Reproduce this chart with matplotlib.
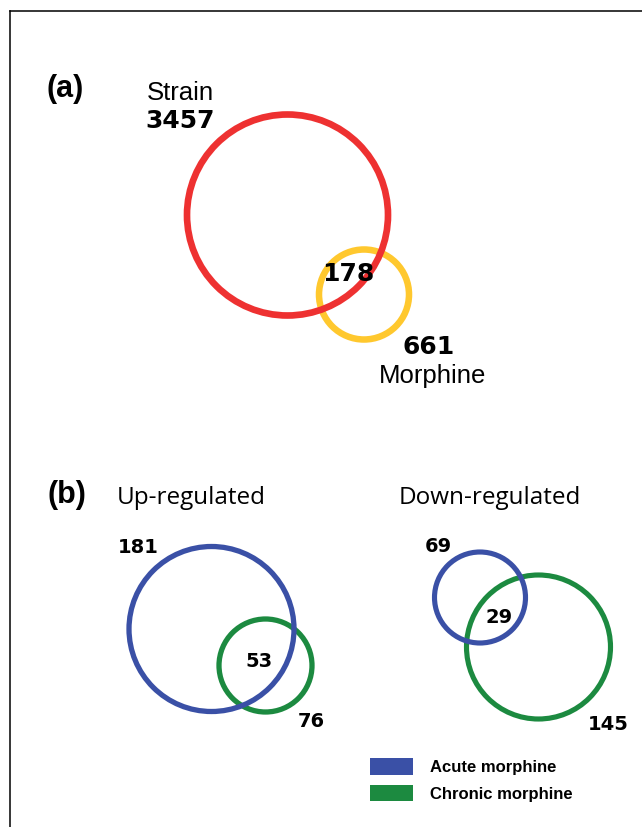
import matplotlib
matplotlib.use("Agg")
import matplotlib.pyplot as plt
from matplotlib.patches import Circle, Rectangle
from matplotlib.lines import Line2D

# panel (a): strain vs morphine
set_names_a = ["Strain", "Morphine"]
only_a = [3457, 661]
overlap_a = 178

# panel (b): acute vs chronic morphine
groups_b = ["Up-regulated", "Down-regulated"]
acute_only = [181, 69]
chronic_only = [76, 145]
overlap_b = [53, 29]
legend_labels = ["Acute morphine", "Chronic morphine"]

red = "#EE3131"
yellow = "#FFC82E"
blue = "#3A50A6"
green = "#1C8A40"

fig = plt.figure(figsize=(6.42, 8.28), dpi=100)
ax = fig.add_axes([0, 0, 1, 1])
ax.set_xlim(0, 642)
ax.set_ylim(828, 0)
ax.axis("off")

# frame (top + left)
fig.add_artist(Line2D([9.5 / 642, 1], [1 - 11.5 / 828] * 2, color="black", lw=1.1))
fig.add_artist(Line2D([9.5 / 642] * 2, [0, 1 - 11.5 / 828], color="black", lw=1.1))

num = dict(family="DejaVu Sans", weight="bold", ha="center", va="center",
           color="black", zorder=5)
lab = dict(family="Liberation Sans", ha="center", va="baseline", color="black")

# ---- (a)
ax.text(65, 89, "(a)", family="Liberation Sans", weight="bold", fontsize=22,
        ha="center", va="center")
ax.add_patch(Circle((364, 295.5), 45, fill=False, ec=yellow, lw=4.7, zorder=1))
ax.add_patch(Circle((287.5, 216), 100.5, fill=False, ec=red, lw=4.8, zorder=2))

ax.text(180, 100, set_names_a[0], fontsize=18.5, **lab)
ax.text(180, 121.5, str(only_a[0]), fontsize=18, **num)
ax.text(348, 274, str(overlap_a), fontsize=18, **num)
ax.text(429, 347.5, str(only_a[1]), fontsize=18, **num)
ax.text(433, 383, set_names_a[1], fontsize=18.5, **lab)

# ---- (b)
ax.text(66.5, 495, "(b)", family="Liberation Sans", weight="bold", fontsize=22,
        ha="center", va="center")
ax.text(191, 504, groups_b[0], family="Open Sans", fontsize=17.5,
        ha="center", va="baseline")
ax.text(490, 504, groups_b[1], family="Open Sans", fontsize=17.5,
        ha="center", va="baseline")

# up-regulated
ax.add_patch(Circle((265.5, 666.5), 46.5, fill=False, ec=green, lw=3.8, zorder=1))
ax.add_patch(Circle((211.5, 630), 82.5, fill=False, ec=blue, lw=3.8, zorder=2))
ax.text(138, 547.5, str(acute_only[0]), fontsize=14, **num)
ax.text(259, 662, str(overlap_b[0]), fontsize=14, **num)
ax.text(311.5, 722, str(chronic_only[0]), fontsize=14, **num)

# down-regulated
ax.add_patch(Circle((538.5, 648), 72, fill=False, ec=green, lw=3.7, zorder=1))
ax.add_patch(Circle((480, 598.5), 45.5, fill=False, ec=blue, lw=3.7, zorder=2))
ax.text(438, 547, str(acute_only[1]), fontsize=14, **num)
ax.text(499.5, 617.5, str(overlap_b[1]), fontsize=14, **num)
ax.text(608, 724.5, str(chronic_only[1]), fontsize=14, **num)

# legend
for i, (txt, col) in enumerate(zip(legend_labels, [blue, green])):
    y = 759 + i * 27
    ax.add_patch(Rectangle((370, y), 42.5, 16.5, color=col, lw=0))
    ax.text(430, y + 8.5, txt, family="Liberation Sans", weight="bold", fontsize=12,
            ha="left", va="center")

fig.savefig("out.png", dpi=100)
